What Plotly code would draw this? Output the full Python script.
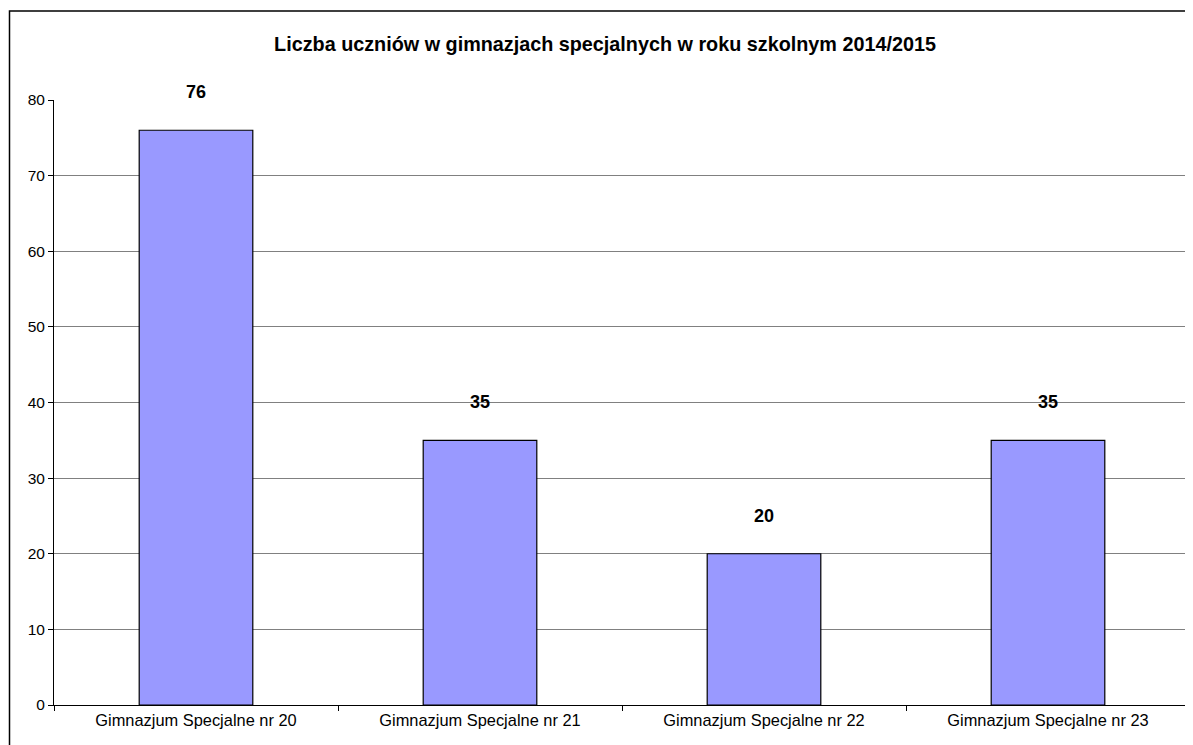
import plotly.graph_objects as go

categories = ["Gimnazjum Specjalne nr 20", "Gimnazjum Specjalne nr 21",
              "Gimnazjum Specjalne nr 22", "Gimnazjum Specjalne nr 23"]
values = [76, 35, 20, 35]
title = "Liczba uczniów w gimnazjach specjalnych w roku szkolnym 2014/2015"

FONT = "Liberation Sans, Arial"

fig = go.Figure()
fig.add_trace(go.Bar(
    x=categories, y=values,
    marker=dict(color="#9999FF", line=dict(color="#000000", width=1.2)),
    hoverinfo="x+y",
))

for c, v in zip(categories, values):
    fig.add_annotation(x=c, y=v, text=f"<b>{v}</b>", showarrow=False,
                       yshift=38, font=dict(family=FONT, size=18, color="#000"))

# page has an 8px body margin; figure coordinates are offset accordingly
OFF = 8
W, H = 1185, 737
L, R, T, B = 54 - OFF, 3, 100 - OFF, 40
pw = W - L - R
ph = H - T - B

def px_x(x):
    return (x - OFF - L) / pw

def px_y(y):
    return (H - B - (y - OFF)) / ph

fig.add_shape(type="rect", xref="paper", yref="paper",
              x0=px_x(9.5), x1=px_x(1400), y0=px_y(11), y1=px_y(900),
              line=dict(color="#000", width=1.5), fillcolor="rgba(0,0,0,0)", layer="below")

fig.update_layout(
    width=W, height=H,
    margin=dict(l=L, r=R, t=T, b=B),
    paper_bgcolor="white", plot_bgcolor="white",
    bargap=0.6,
    showlegend=False,
    title=dict(text=f"<b>{title}</b>", x=px_x(605), xanchor="center", xref="paper",
               y=1 - (44 - OFF) / H, yanchor="middle",
               font=dict(family=FONT, size=19.8, color="#000")),
    font=dict(family=FONT, size=15, color="#000"),
    xaxis=dict(type="category", tickson="boundaries", ticks="outside", ticklen=5,
               tickcolor="#000", showline=True, linecolor="#000", linewidth=1,
               showgrid=False, tickfont=dict(size=16.4)),
    yaxis=dict(range=[0, 80], dtick=10, ticks="outside", ticklen=5, tickcolor="#000",
               showline=True, linecolor="#000", linewidth=1,
               showgrid=True, gridcolor="#808080", gridwidth=1, zeroline=False,
               tickfont=dict(size=15.5)),
)

fig.write_html("out.html")
